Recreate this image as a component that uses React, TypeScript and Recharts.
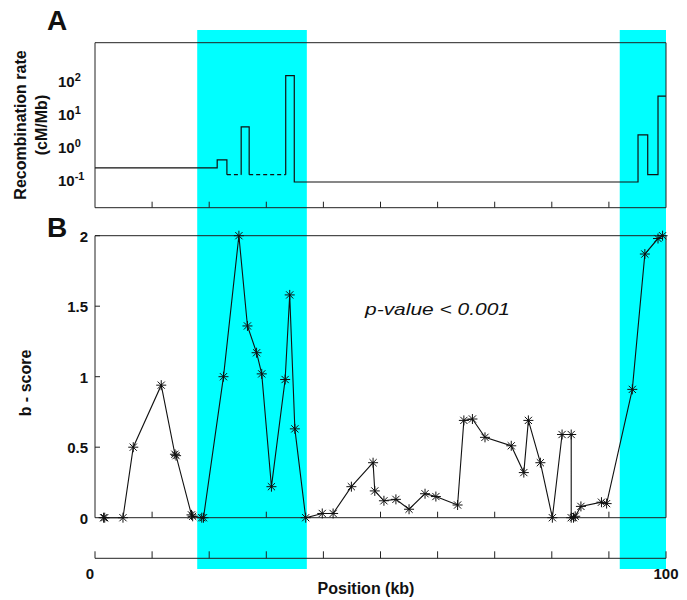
import React from 'react';
import { LineChart, Line, XAxis, YAxis, ReferenceArea } from 'recharts';

const FONT = '"Liberation Sans", Arial, Helvetica, sans-serif';
const INK = '#111';
const CYAN = '#00FFFF';
const AX = '#222';

// ---- Highlighted regions (kb) ----
const highlightStart = [17.9, 91.9];
const highlightEnd = [37.1, 100];

// ---- Panel A: recombination rate, step function (cM/Mb) ----
const recombBreaks = [0, 21.4, 23.1, 25.6, 27.0, 33.4, 34.9, 95.1, 96.8, 98.6, 100];
const recombRates = [0.16, 0.28, 0.1, 2.8, 0.1, 100, 0.06, 1.6, 0.1, 24];
const recombDashed = [false, false, true, false, true, false, false, false, false, false];
const recombTicks = [0.1, 1, 10, 100];
const xTicksA = [10, 20, 30, 40, 50, 60, 70, 80, 90];

// ---- Panel B: b-score ----
const positions = [
  1.5, 1.7, 4.9, 6.7, 11.6, 14.0, 14.2, 16.9, 17.1, 18.7,
  19.0, 22.5, 25.2, 26.7, 28.3, 29.2, 30.9, 33.3, 34.1, 35.0,
  36.9, 39.8, 41.7, 44.9, 48.7, 49.0, 50.6, 52.7, 55.0, 57.8,
  59.7, 63.5, 64.6, 66.1, 68.3, 72.9, 75.1, 75.9, 78.0, 80.1,
  81.8, 83.4, 83.4, 83.8, 84.1, 85.1, 88.7, 89.6, 94.1, 96.3,
  98.6, 99.4,
];
const bScores = [
  0, 0, 0, 0.50, 0.94, 0.45, 0.44, 0.02, 0.01, 0,
  0, 1.0, 2.0, 1.36, 1.17, 1.02, 0.22, 0.98, 1.58, 0.63,
  0, 0.03, 0.03, 0.22, 0.39, 0.19, 0.12, 0.13, 0.06, 0.17,
  0.15, 0.09, 0.69, 0.70, 0.57, 0.51, 0.32, 0.69, 0.39, 0,
  0.59, 0.59, 0, 0, 0.01, 0.08, 0.11, 0.10, 0.91, 1.87,
  1.98, 2.0,
];
const bTicks = [0, 0.5, 1, 1.5, 2];
const bInnerTicks = [0.5, 1, 1.5];
const xTicksB = [10, 30, 50, 60, 70, 80, 90];

// ---- Bottom position axis ----
const xTicksBottom = [0, 10, 20, 30, 40, 50, 60, 70, 80, 90, 100];
const xLabelTicks = [0, 100];

// build step-line vertices from the breaks/rates
const solidStep: { x: number; y: number | null }[] = [];
const dashedStep: { x: number; y: number | null }[] = [];
recombRates.forEach((r, i) => {
  const x0 = recombBreaks[i];
  const x1 = recombBreaks[i + 1];
  if (i > 0) {
    solidStep.push({ x: x0, y: recombRates[i - 1] }, { x: x0, y: r });
  }
  if (recombDashed[i]) {
    solidStep.push({ x: x0, y: null });
    dashedStep.push({ x: x0, y: r }, { x: x1, y: r }, { x: x1, y: null });
  } else {
    solidStep.push({ x: x0, y: r }, { x: x1, y: r });
  }
});

const bData = positions.map((x, i) => ({ x, y: bScores[i] }));
const axisData = xTicksBottom.map((x) => ({ x, y: 0.5 }));

const Star = (props: any) => {
  const { cx, cy, index } = props;
  if (cx == null || cy == null) return <g key={`e${index}`} />;
  const r = 5;
  const d = 3.6;
  return (
    <g key={`s${index}`} stroke={INK} strokeWidth={1}>
      <line x1={cx - r} y1={cy} x2={cx + r} y2={cy} />
      <line x1={cx} y1={cy - r} x2={cx} y2={cy + r} />
      <line x1={cx - d} y1={cy - d} x2={cx + d} y2={cy + d} />
      <line x1={cx - d} y1={cy + d} x2={cx + d} y2={cy - d} />
    </g>
  );
};

// inward tick mark for x axes (dir = -1 upward, +1 downward)
const makeXTick = (dir: number, len: number, labels: number[] = []) => (props: any) => {
  const { x, y, payload } = props;
  const v = payload.value;
  return (
    <g>
      <line x1={x} y1={y} x2={x} y2={y + dir * len} stroke={AX} strokeWidth={1} />
      {labels.includes(v) ? (
        <text x={x + (v === 0 ? -5 : 0)} y={y + 10} dy="0.71em" textAnchor="middle" fontFamily={FONT} fontWeight="bold" fontSize={15} fill={INK}>
          {String(v)}
        </text>
      ) : null}
    </g>
  );
};
const TickUp6 = makeXTick(-1, 6);
const TickDown6 = makeXTick(1, 6);
const TickBottomAxis = makeXTick(-1, 7, xLabelTicks);

// inward tick mark for right y axis
const RightTick = (props: any) => {
  const { x, y, payload } = props;
  if (!bInnerTicks.includes(payload.value)) return <g />;
  return <line x1={x} y1={y} x2={x - 5} y2={y} stroke={AX} strokeWidth={1} />;
};

const BLeftTick = (props: any) => {
  const { x, y, payload } = props;
  const v = payload.value;
  return (
    <g>
      {v > 0 ? <line x1={x} y1={y} x2={x + 5} y2={y} stroke={AX} strokeWidth={1} /> : null}
      <text x={x - 7} y={y + 1} dy="0.35em" textAnchor="end" fontFamily={FONT} fontWeight="bold" fontSize={15} fill={INK}>
        {String(v)}
      </text>
    </g>
  );
};

const LogTick = (props: any) => {
  const { x, y, payload } = props;
  const exp = Math.round(Math.log10(payload.value));
  return (
    <text x={x - 37} y={y + 11.5} fontFamily={FONT} fontWeight="bold" fontSize={15} fill={INK} textAnchor="start">
      10
      <tspan dy={-6} fontSize={11}>{String(exp)}</tspan>
    </text>
  );
};

const NoTick = () => <g />;

export default function App() {
  return (
    <div style={{ position: 'absolute', left: 0, top: 0, width: 687, height: 600, background: '#fff', overflow: 'hidden' }}>
      {/* cyan highlight bands */}
      <div style={{ position: 'absolute', left: 0, top: 0 }}>
        <LineChart width={687} height={600} data={axisData} margin={{ top: 30, right: 21, bottom: 31, left: 95 }}>
          <XAxis hide type="number" dataKey="x" domain={[0, 100]} />
          <YAxis hide type="number" domain={[0, 1]} />
          <Line dataKey="y" stroke="none" dot={false} isAnimationActive={false} />
          {highlightStart.map((s, i) => (
            <ReferenceArea key={i} x1={s} x2={highlightEnd[i]} y1={0} y2={1} fill={CYAN} fillOpacity={1} stroke="none" ifOverflow="visible" />
          ))}
        </LineChart>
      </div>

      {/* Panel A */}
      <div style={{ position: 'absolute', left: 0, top: 0 }}>
        <LineChart width={687} height={215} margin={{ top: 41.7, right: 20, bottom: 6.3, left: 35 }}>
          <XAxis xAxisId="b" type="number" dataKey="x" domain={[0, 100]} ticks={xTicksA} orientation="bottom" height={1} tickLine={false} tickSize={0} tickMargin={0} tick={<TickUp6 />} stroke={AX} />
          <XAxis xAxisId="t" type="number" dataKey="x" domain={[0, 100]} ticks={xTicksA} orientation="top" height={1} tickLine={false} tickSize={0} tickMargin={0} tick={<TickDown6 />} stroke={AX} />
          <YAxis yAxisId="l" type="number" scale="log" domain={[0.01, 1000]} ticks={recombTicks} tickLine={false} tickSize={0} tickMargin={0} width={60} tick={<LogTick />} stroke={AX} />
          <YAxis yAxisId="r" orientation="right" type="number" scale="log" domain={[0.01, 1000]} ticks={recombTicks} width={1} tick={<NoTick />} tickLine={false} stroke={AX} />
          <Line xAxisId="b" yAxisId="l" data={solidStep} dataKey="y" stroke={INK} strokeWidth={1.2} dot={false} connectNulls={false} isAnimationActive={false} />
          <Line xAxisId="b" yAxisId="l" data={dashedStep} dataKey="y" stroke={INK} strokeWidth={1.2} strokeDasharray="4 3" dot={false} connectNulls={false} isAnimationActive={false} />
        </LineChart>
      </div>

      {/* Panel B */}
      <div style={{ position: 'absolute', left: 0, top: 215 }}>
        <LineChart width={687} height={320} margin={{ top: 19.7, right: 20, bottom: 16.3, left: 35 }}>
          <XAxis xAxisId="b" type="number" dataKey="x" domain={[0, 100]} ticks={xTicksB} orientation="bottom" height={1} tickLine={false} tickSize={0} tickMargin={0} tick={<TickUp6 />} stroke={AX} />
          <XAxis xAxisId="t" type="number" dataKey="x" domain={[0, 100]} ticks={xTicksB} orientation="top" height={1} tickLine={false} tickSize={0} tickMargin={0} tick={<TickDown6 />} stroke={AX} />
          <YAxis yAxisId="l" type="number" domain={[0, 2]} ticks={bTicks} tickLine={false} tickSize={0} tickMargin={0} width={60} tick={<BLeftTick />} stroke={AX} />
          <YAxis yAxisId="r" orientation="right" type="number" domain={[0, 2]} ticks={bTicks} width={1} tickLine={false} tickSize={0} tickMargin={0} tick={<RightTick />} stroke={AX} />
          <Line xAxisId="b" yAxisId="l" data={bData} dataKey="y" stroke={INK} strokeWidth={1.1} dot={Star} isAnimationActive={false} />
        </LineChart>
      </div>

      {/* Bottom position axis */}
      <div style={{ position: 'absolute', left: 0, top: 530 }}>
        <LineChart width={687} height={70} data={axisData} margin={{ top: 0, right: 21, bottom: 11.7, left: 95 }}>
          <YAxis hide type="number" domain={[0, 1]} />
          <XAxis xAxisId="m" type="number" dataKey="x" domain={[0, 100]} ticks={xTicksBottom} orientation="bottom" height={30} tickLine={false} tickSize={0} tickMargin={0} tick={<TickBottomAxis />} stroke={AX} />
          <Line xAxisId="m" dataKey="y" stroke="none" dot={false} isAnimationActive={false} />
        </LineChart>
      </div>

      {/* titles and annotations */}
      <svg width={687} height={600} style={{ position: 'absolute', left: 0, top: 0, pointerEvents: 'none' }}>
        <text x={47} y={30} fontFamily={FONT} fontWeight="bold" fontSize={28} fill={INK}>A</text>
        <text x={47} y={237} fontFamily={FONT} fontWeight="bold" fontSize={28} fill={INK}>B</text>
        <text transform="translate(20,125) rotate(-90)" textAnchor="middle" dominantBaseline="central" fontFamily={FONT} fontWeight="bold" fontSize={16} fill={INK}>Recombination rate</text>
        <text transform="translate(41,125) rotate(-90)" textAnchor="middle" dominantBaseline="central" fontFamily={FONT} fontWeight="bold" fontSize={16} fill={INK}>(cM/Mb)</text>
        <text transform="translate(25,383) rotate(-90)" textAnchor="middle" dominantBaseline="central" fontFamily={FONT} fontWeight="bold" fontSize={16} fill={INK}>b - score</text>
        <text x={366} y={594} textAnchor="middle" fontFamily={FONT} fontWeight="bold" fontSize={16} fill={INK}>Position (kb)</text>
        <text x={365} y={315} fontFamily={FONT} fontStyle="italic" fontSize={17} fill={INK} textLength={145} lengthAdjust="spacingAndGlyphs">p-value &lt; 0.001</text>
      </svg>
    </div>
  );
}
